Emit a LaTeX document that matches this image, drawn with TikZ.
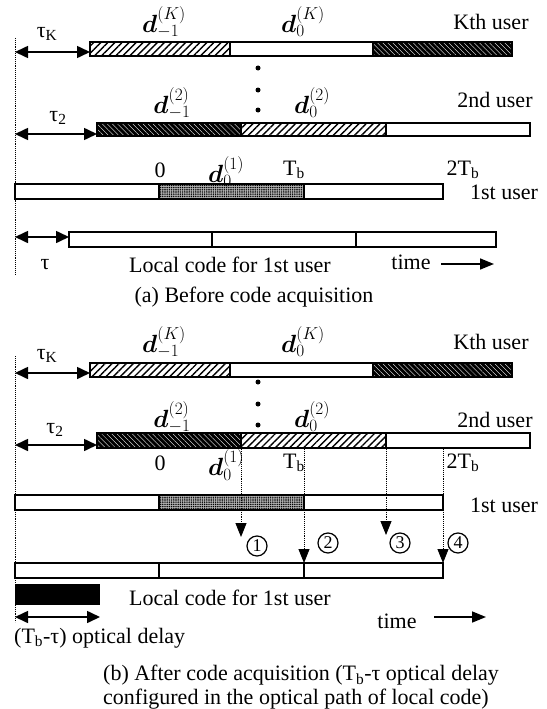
\documentclass[tikz,border=0pt]{standalone}
\usepackage{fontspec}
\usepackage{bm}
\setmainfont{Liberation Serif}
\usetikzlibrary{arrows.meta,patterns.meta}
\begin{document}
\begin{tikzpicture}[x=1pt,y=-1pt,
  lbl/.style={font=\fontsize{22}{24}\selectfont, inner sep=0pt},
  mlbl/.style={font=\fontsize{24}{26}\selectfont, inner sep=0pt},
  barline/.style={draw, line width=1.6pt},
  light/.style={pattern={Lines[angle=45,distance=5pt,line width=1.4pt]}},
  dark/.style={fill=black, postaction={pattern={Lines[angle=-45,distance=3.6pt,line width=0.35pt]}, pattern color=white}},
  dotty/.style={fill=black!30, postaction={pattern={Dots[distance=2.2pt,radius=0.8pt]}}},
  dim/.style={{Triangle[length=13pt,width=12pt]}-{Triangle[length=13pt,width=12pt]}, line width=1.6pt},
  fwd/.style={-{Triangle[length=14pt,width=11pt]}, line width=1.6pt},
  guide/.style={densely dotted, line width=0.9pt},
  down/.style={densely dotted, line width=0.9pt, -{Triangle[length=14pt,width=11pt]}},
  num/.style={circle, draw, line width=1.2pt, minimum size=20pt, inner sep=0pt, font=\fontsize{18}{18}\selectfont},
  dotmark/.style={circle, fill, inner sep=0pt, minimum size=5pt}
]
\useasboundingbox (0,0) rectangle (546,709);

% ================= (a) =================
\draw[guide] (15,38) -- (15,275);
% Kth user
\path[light] (90,42) rectangle (230,56);
\path[dark] (373,42) rectangle (512,56);
\draw[barline] (90,42) rectangle (512,56);
\draw[line width=1.4pt] (230,42) -- (230,56) (373,42) -- (373,56);
\coordinate (aK0) at (15,52); \coordinate (aK1) at (90,52);
\draw[dim] (aK0) -- (aK1);
\node[lbl] (atK) at (47,34) {τ\textsubscript{K}};
\node[mlbl] (adK1) at (164,22) {$\bm{d}_{-1}^{(K)}$};
\node[mlbl] (adK0) at (303,22) {$\bm{d}_{0}^{(K)}$};
\node[lbl] (aKu) at (491,22) {Kth user};
\node[dotmark] (ad1) at (258,68) {};
\node[dotmark] (ad2) at (258,90) {};
\node[dotmark] (ad3) at (258,110) {};
% 2nd user
\path[dark] (97,123) rectangle (241,136);
\path[light] (241,123) rectangle (386,136);
\draw[barline] (97,123) rectangle (530,136);
\draw[line width=1.4pt] (241,123) -- (241,136) (386,123) -- (386,136);
\coordinate (a20) at (15,134); \coordinate (a21) at (97,134);
\draw[dim] (a20) -- (a21);
\node[lbl] (at2) at (58,118) {τ\textsubscript{2}};
\node[mlbl] (ad21) at (172,103) {$\bm{d}_{-1}^{(2)}$};
\node[mlbl] (ad20) at (312,103) {$\bm{d}_{0}^{(2)}$};
\node[lbl] (a2u) at (495,100) {2nd user};
% 1st user
\path[dotty] (159,184) rectangle (304,199);
\draw[barline] (15,184) rectangle (443,199);
\draw[line width=1.4pt] (159,184) -- (159,199) (304,184) -- (304,199);
\node[lbl] (a0) at (160,170) {0};
\node[mlbl] (ad10) at (226,172) {$\bm{d}_{0}^{(1)}$};
\node[lbl] (aTb) at (294,170) {T\textsubscript{b}};
\node[lbl] (a2Tb) at (463,170) {2T\textsubscript{b}};
\node[lbl] (a1u) at (504,192) {1st user};
% local code
\draw[barline] (69,232) rectangle (496,247);
\draw[line width=1.4pt] (212,232) -- (212,247) (356,232) -- (356,247);
\coordinate (al0) at (15,237); \coordinate (al1) at (69,237);
\draw[dim] (al0) -- (al1);
\node[lbl] (atau) at (45,265) {τ};
\node[lbl] (alc) at (230,265) {Local code for 1st user};
\node[lbl] (atime) at (411,262) {time};
\coordinate (ata0) at (441,264); \coordinate (ata1) at (494,264);
\draw[fwd] (ata0) -- (ata1);
\node[lbl] (capa) at (254,297) {(a) Before code acquisition};

% ================= (b) =================
\draw[guide] (15,356) -- (15,622);
% Kth user
\path[light] (90,363) rectangle (230,377);
\path[dark] (373,363) rectangle (512,377);
\draw[barline] (90,363) rectangle (512,377);
\draw[line width=1.4pt] (230,363) -- (230,377) (373,363) -- (373,377);
\coordinate (bK0) at (15,373); \coordinate (bK1) at (90,373);
\draw[dim] (bK0) -- (bK1);
\node[lbl] (btK) at (47,356) {τ\textsubscript{K}};
\node[mlbl] (bdK1) at (164,342) {$\bm{d}_{-1}^{(K)}$};
\node[mlbl] (bdK0) at (303,342) {$\bm{d}_{0}^{(K)}$};
\node[lbl] (bKu) at (491,342) {Kth user};
\node[dotmark] (bd1) at (258,382) {};
\node[dotmark] (bd2) at (258,404) {};
\node[dotmark] (bd3) at (258,425) {};
% 2nd user
\path[dark] (97,433) rectangle (241,448);
\path[light] (241,433) rectangle (386,448);
\draw[barline] (97,433) rectangle (530,448);
\draw[line width=1.4pt] (241,433) -- (241,448) (386,433) -- (386,448);
\coordinate (b20) at (15,445); \coordinate (b21) at (97,445);
\draw[dim] (b20) -- (b21);
\node[lbl] (bt2) at (55,430) {τ\textsubscript{2}};
\node[mlbl] (bd21) at (172,417) {$\bm{d}_{-1}^{(2)}$};
\node[mlbl] (bd20) at (312,417) {$\bm{d}_{0}^{(2)}$};
\node[lbl] (b2u) at (495,420) {2nd user};
% 1st user
\path[dotty] (159,495) rectangle (304,510);
\draw[barline] (15,495) rectangle (443,510);
\draw[line width=1.4pt] (159,495) -- (159,510) (304,495) -- (304,510);
\node[lbl] (b0) at (160,463) {0};
\node[mlbl] (bd10) at (226,465) {$\bm{d}_{0}^{(1)}$};
\node[lbl] (bTb) at (294,463) {T\textsubscript{b}};
\node[lbl] (b2Tb) at (463,463) {2T\textsubscript{b}};
\node[lbl] (b1u) at (504,505) {1st user};
% guides with arrows
\coordinate (g1a) at (241,449); \coordinate (g1b) at (241,537);
\coordinate (g2a) at (304,449); \coordinate (g2b) at (304,563);
\coordinate (g3a) at (386,449); \coordinate (g3b) at (386,535);
\coordinate (g4a) at (443,449); \coordinate (g4b) at (443,563);
\draw[down] (g1a) -- (g1b);
\draw[down] (g2a) -- (g2b);
\draw[down] (g3a) -- (g3b);
\draw[down] (g4a) -- (g4b);
\node[num] (n1) at (257,546) {1};
\node[num] (n2) at (328,543) {2};
\node[num] (n3) at (400,543) {3};
\node[num] (n4) at (458,543) {4};
% local code
\draw[barline] (15,563) rectangle (443,578);
\draw[line width=1.4pt] (159,563) -- (159,578) (304,563) -- (304,578);
\fill (15,584) rectangle (100,605);
\coordinate (bl0) at (15,617); \coordinate (bl1) at (100,617);
\draw[dim] (bl0) -- (bl1);
\node[lbl] (blc) at (230,598) {Local code for 1st user};
\node[lbl] (btime) at (397,621) {time};
\coordinate (bta0) at (434,617); \coordinate (bta1) at (486,617);
\draw[fwd] (bta0) -- (bta1);
\node[lbl, anchor=west] (bdel) at (14,638) {(T\textsubscript{b}-τ) optical delay};
\node[lbl, anchor=north west, align=left] (capb) at (103,665) {(b) After code acquisition (T\textsubscript{b}-τ optical delay\\configured in the optical path of local code)};
\end{tikzpicture}
\end{document}
